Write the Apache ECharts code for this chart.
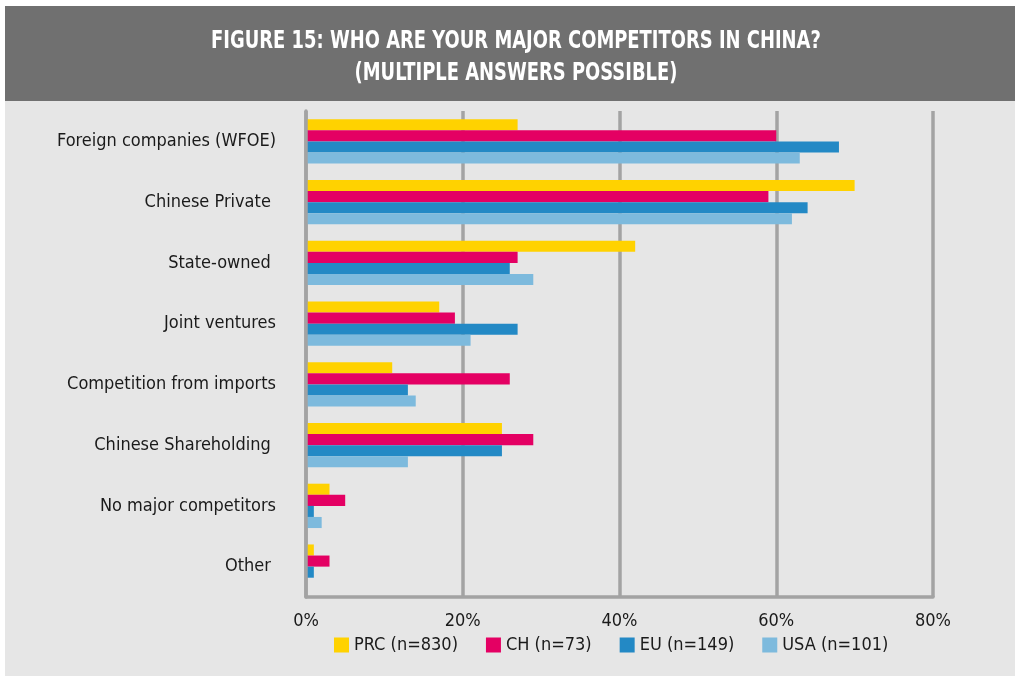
<!DOCTYPE html>
<html>
<head>
<meta charset="utf-8">
<script src="https://cdn.jsdelivr.net/npm/echarts@6/dist/echarts.min.js"></script>
<style>
  html, body { margin: 0; padding: 0; background: #fff; }
  #chart { width: 1015px; height: 676px; }
</style>
</head>
<body>
<div id="chart"></div>
<script>
// categories (trailing spaces are in the original labels)
const categories = [
    'Foreign companies (WFOE)',
    'Chinese Private ',
    'State-owned ',
    'Joint ventures',
    'Competition from imports',
    'Chinese Shareholding ',
    'No major competitors',
    'Other '
];

// share of respondents, %
const prc = [27, 70, 42, 17, 11, 25, 3, 1];
const ch  = [60, 59, 27, 19, 26, 29, 5, 3];
const eu  = [68, 64, 26, 27, 13, 25, 1, 1];
const usa = [63, 62, 29, 21, 14, 13, 2, 0];

const seriesNames = ['PRC (n=830)', 'CH (n=73)', 'EU (n=149)', 'USA (n=101)'];
const xTicks = [0, 20, 40, 60, 80];

const FONT = '"Liberation Sans Narrow", "DejaVu Sans Condensed", "Roboto", sans-serif';

const chart = echarts.init(document.getElementById('chart'));

const colors = ['#FFD200', '#E40063', '#2389C5', '#7DBADD'];

const option = {
    backgroundColor: '#ffffff',
    color: colors,
    animation: false,
    textStyle: { fontFamily: FONT },
    graphic: [
        {
            type: 'rect',
            z: -10,
            shape: { x: 5, y: 6, width: 1010, height: 95 },
            style: { fill: '#707070' }
        },
        {
            type: 'rect',
            z: -10,
            shape: { x: 5, y: 101, width: 1010, height: 575 },
            style: { fill: '#E6E6E6' }
        },
        {
            // title is squeezed horizontally to mimic the condensed face
            type: 'text',
            z: 10,
            x: 516,
            y: 26,
            scaleX: 0.83,
            style: {
                text: 'FIGURE 15: WHO ARE YOUR MAJOR COMPETITORS IN CHINA?\n(MULTIPLE ANSWERS POSSIBLE)',
                fill: '#ffffff',
                font: 'bold 24px ' + FONT,
                textAlign: 'center',
                lineHeight: 32
            }
        }
    ],
    legend: {
        left: 329,
        top: 631,
        itemWidth: 15,
        itemHeight: 15,
        itemGap: 28,
        icon: 'rect',
        textStyle: { fontSize: 18, color: '#1a1a1a', fontFamily: FONT },
        data: seriesNames
    },
    grid: {
        left: 306,
        right: 82,
        top: 111,
        bottom: 79,
        containLabel: false
    },
    xAxis: {
        type: 'value',
        min: 0,
        max: 80,
        interval: 20,
        axisLine: { show: true, lineStyle: { color: '#A3A3A3', width: 3.5 } },
        axisTick: { show: false },
        splitLine: { show: true, lineStyle: { color: '#A3A3A3', width: 3.5 } },
        axisLabel: {
            margin: 15,
            fontSize: 18,
            color: '#1a1a1a',
            fontFamily: FONT,
            formatter: v => xTicks.includes(v) ? v + '%' : ''
        }
    },
    yAxis: {
        type: 'category',
        inverse: true,
        data: categories,
        z: 5,
        axisLine: { show: true, lineStyle: { color: '#A3A3A3', width: 3.5 } },
        axisTick: { show: false },
        axisLabel: {
            margin: 30,
            fontSize: 18,
            color: '#1a1a1a',
            fontFamily: FONT
        }
    },
    series: [prc, ch, eu, usa].map((d, i) => ({
        name: seriesNames[i],
        type: 'bar',
        data: d,
        barGap: 0,
        barCategoryGap: '27%'
    }))
};

option && chart.setOption(option);
</script>
</body>
</html>
